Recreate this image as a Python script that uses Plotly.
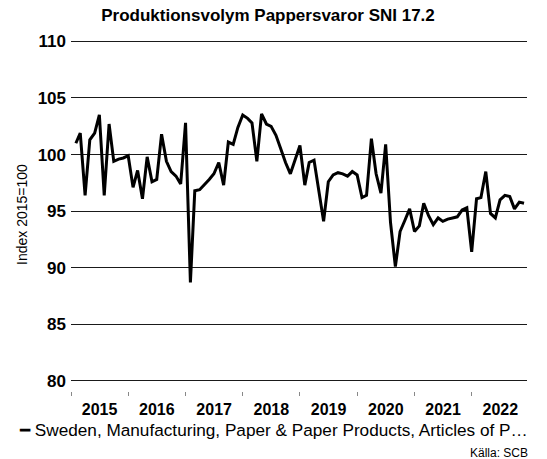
import plotly.graph_objects as go
import pandas as pd

title_text = "Produktionsvolym Pappersvaror SNI 17.2"
series_name = "Sweden, Manufacturing, Paper & Paper Products, Articles of P…"
y_title = "Index 2015=100"
source_text = "Källa: SCB"

start_month = "2015-02-01"
values = [
    101.0, 101.9, 96.4, 101.3, 101.9, 103.5, 96.4, 102.7, 99.4, 99.6, 99.7,
    99.9, 97.1, 98.6, 96.1, 99.8, 97.6, 97.8, 101.8, 99.4, 98.5, 98.1, 97.4,
    102.8, 88.7, 96.8, 96.9, 97.3, 97.8, 98.3, 99.3, 97.3, 101.1, 100.9, 102.4,
    103.5, 103.2, 102.8, 99.4, 103.6, 102.7, 102.5, 101.7, 100.5, 99.3, 98.3,
    99.6, 100.8, 97.3, 99.3, 99.5, 96.7, 94.1, 97.6, 98.2, 98.4, 98.3, 98.1,
    98.5, 98.2, 96.2, 96.4, 101.4, 98.3, 96.6, 100.9, 94.0, 90.1, 93.2, 94.2,
    95.2, 93.2, 93.7, 95.7, 94.6, 93.8, 94.4, 94.1, 94.3, 94.4, 94.5, 95.1,
    95.3, 91.4, 96.1, 96.2, 98.5, 94.8, 94.4, 96.0, 96.4, 96.3, 95.2, 95.8,
    95.7,
]
dates = pd.date_range(start_month, periods=len(values), freq="MS")

y_ticks = [80, 85, 90, 95, 100, 105, 110]

FONT = "Liberation Sans, Arial, sans-serif"
PLOT_H = 391 - 37.6

fig = go.Figure()
fig.add_trace(go.Scatter(
    x=dates, y=values, mode="lines", name=series_name,
    line=dict(color="black", width=3), showlegend=False,
))

fig.update_layout(
    width=547, height=459,
    margin=dict(l=71, r=20, t=37.6, b=68),
    paper_bgcolor="white", plot_bgcolor="white",
    font=dict(family=FONT, color="black"),
    title=dict(text="<b>" + title_text + "</b>", font=dict(size=17, family=FONT),
               x=0.49, xref="container", xanchor="center",
               y=1 - 15 / 459, yref="container", yanchor="middle"),
    xaxis=dict(
        type="date",
        range=["2015-01-01", "2022-12-20"],
        tick0="2015-01-01", dtick="M12", tickformat="%Y",
        ticklabelmode="period",
        ticks="outside", ticklen=4, tickcolor="#888888", tickwidth=1,
        showgrid=False, showline=False, zeroline=False,
        tickfont=dict(size=16, family=FONT),
        tickprefix="<b>", ticksuffix="</b>",
    ),
    yaxis=dict(
        range=[79.11, 110.3],
        tickvals=y_ticks, ticktext=["<b>%d</b>" % v for v in y_ticks],
        tickfont=dict(size=17, family=FONT),
        showgrid=True, gridcolor="#1a1a1a", gridwidth=1,
        zeroline=False, showline=False, ticks="",
        ticklabelstandoff=4,
        title=dict(text=y_title, font=dict(size=14, family=FONT), standoff=6),
    ),
    annotations=[
        dict(
            text="━ " + series_name, xref="paper", yref="paper",
            x=(17 - 71) / 456, xanchor="left", y=-(430 - 391) / PLOT_H, yanchor="middle",
            showarrow=False, font=dict(size=17.2, family=FONT),
        ),
        dict(
            text=source_text, xref="paper", yref="paper",
            x=1.0, xanchor="right", xshift=3, y=-(453 - 391) / PLOT_H, yanchor="middle",
            showarrow=False, font=dict(size=12, family=FONT),
        ),
    ],
)

fig.write_html("out.html")
